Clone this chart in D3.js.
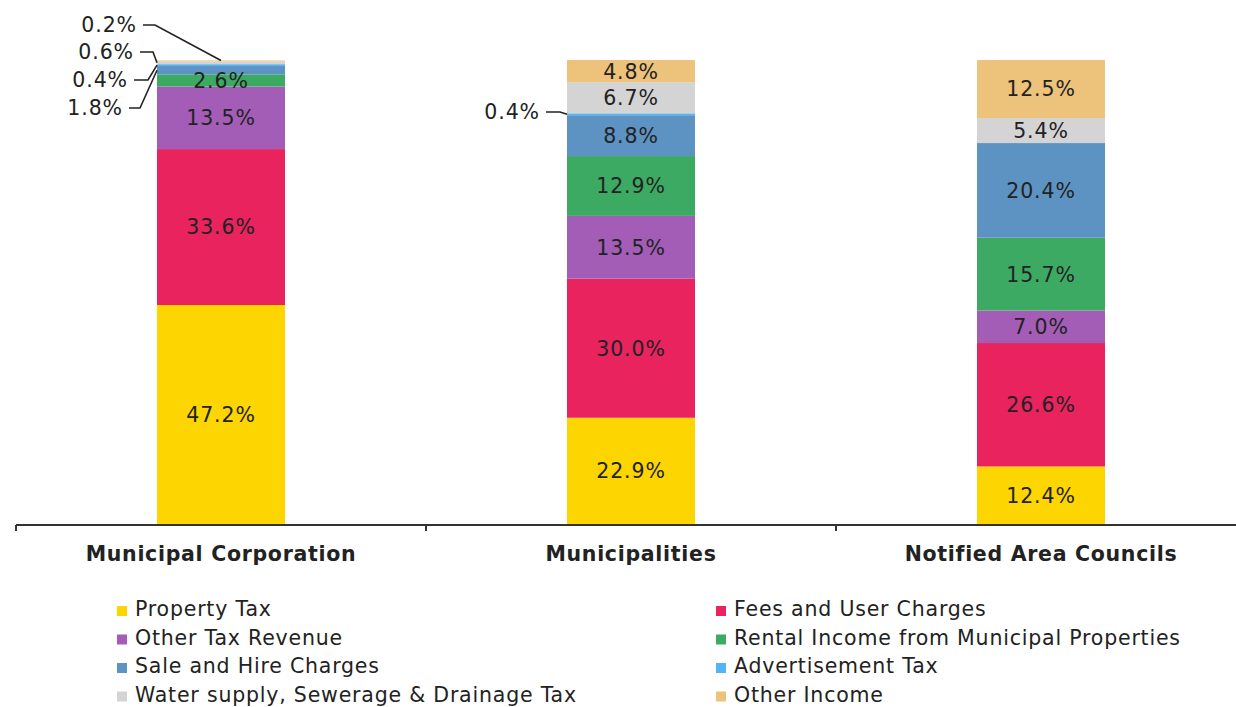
<!DOCTYPE html>
<html>
<head>
<meta charset="utf-8">
<script src="https://cdn.jsdelivr.net/npm/d3@7"></script>
<style>
  html, body { margin: 0; padding: 0; background: #ffffff; }
  svg { display: block; }
  text { font-family: "DejaVu Sans", Verdana, sans-serif; fill: #222; }
</style>
</head>
<body>
<svg id="chart" width="1236" height="707"></svg>
<script>
// Revenue composition by type of urban local body (share of own revenue, %)
const categories = ["Municipal Corporation", "Municipalities", "Notified Area Councils"];

const seriesNames = [
  "Property Tax",
  "Fees and User Charges",
  "Other Tax Revenue",
  "Rental Income from Municipal Properties",
  "Sale and Hire Charges",
  "Advertisement Tax",
  "Water supply, Sewerage & Drainage Tax",
  "Other Income"
];

const propertyTax   = [47.2, 22.9, 12.4];
const feesUser      = [33.6, 30.0, 26.6];
const otherTax      = [13.5, 13.5, 7.0];
const rentalIncome  = [2.6, 12.9, 15.7];
const saleHire      = [1.8, 8.8, 20.4];
const advertisement = [0.4, 0.4, 0.0];
const waterSupply   = [0.6, 6.7, 5.4];
const otherIncome   = [0.2, 4.8, 12.5];

const seriesValues = [propertyTax, feesUser, otherTax, rentalIncome, saleHire, advertisement, waterSupply, otherIncome];

const colors = ["#FDD500", "#E8235E", "#A35DB6", "#3DAA64", "#5D93C2", "#55B4F2", "#D4D4D4", "#EDC27A"];

// Small segments are labelled outside the bar with a leader line:
// [category index, series index, label right edge x, label centre y, elbow x, target on bar ("left" or "top")]
const calloutLayout = [
  [0, 7, 137, 25, 155, "top"],
  [0, 6, 134, 52, 153, "left"],
  [0, 5, 128, 80, 148, "left"],
  [0, 4, 123, 108, 140, "left"],
  [1, 5, 540, 112, 560, "left"]
];

const svg = d3.select("#chart");

const plotTop = 60, plotBottom = 524;
const rangeLeft = 16, rangeRight = 1246;

// category slots (boundaries carry the axis ticks) and centred bars
const slot = d3.scaleBand().domain(categories).range([rangeLeft, rangeRight]).padding(0);
const barPad = 1 - 128 / slot.step();
const x = d3.scaleBand().domain(categories).range([rangeLeft, rangeRight])
  .paddingInner(barPad).paddingOuter(barPad / 2);
const y = d3.scaleLinear().domain([0, 100]).range([plotBottom, plotTop]);

// rows for the stack
const rows = categories.map((c, i) => {
  const r = { category: c };
  seriesNames.forEach((s, j) => { r[s] = seriesValues[j][i]; });
  return r;
});
const stacked = d3.stack().keys(seriesNames)(rows);

const labelFont = { size: 20.5, spacing: 0.9 };

const layers = svg.append("g").selectAll("g")
  .data(stacked)
  .join("g")
  .attr("fill", (d, i) => colors[i]);

layers.selectAll("rect")
  .data(d => d.map(p => ({ p, key: d.key })))
  .join("rect")
  .attr("x", d => x(d.p.data.category))
  .attr("width", x.bandwidth())
  .attr("y", d => y(d.p[1]))
  .attr("height", d => Math.max(0, y(d.p[0]) - y(d.p[1])));

// inside labels
stacked.forEach((layer, j) => {
  layer.forEach((p, i) => {
    const v = seriesValues[j][i];
    if (v < 2.5) return;
    svg.append("text")
      .attr("x", x(categories[i]) + x.bandwidth() / 2)
      .attr("y", (y(p[0]) + y(p[1])) / 2)
      .attr("dy", "0.36em")
      .attr("text-anchor", "middle")
      .style("font-size", labelFont.size + "px")
      .style("letter-spacing", labelFont.spacing + "px")
      .text(v.toFixed(1) + "%");
  });
});

// outside labels with leader lines
calloutLayout.forEach(([ci, sj, lx, ly, ex, target]) => {
  const p = stacked[sj][ci];
  const v = seriesValues[sj][ci];
  const bx = x(categories[ci]);
  let tx, ty;
  if (target === "top") {
    tx = bx + x.bandwidth() / 2;
    ty = y(p[1]);
  } else {
    tx = bx;
    ty = (y(p[0]) + y(p[1])) / 2;
  }
  svg.append("path")
    .attr("d", d3.line()([[lx + 6, ly], [ex, ly], [tx, ty]]))
    .attr("fill", "none")
    .attr("stroke", "#222")
    .attr("stroke-width", 1.6);
  svg.append("text")
    .attr("x", lx)
    .attr("y", ly)
    .attr("dy", "0.36em")
    .attr("text-anchor", "end")
    .style("font-size", labelFont.size + "px")
    .style("letter-spacing", labelFont.spacing + "px")
    .text(v.toFixed(1) + "%");
});

// category axis
const axisG = svg.append("g");
axisG.append("line")
  .attr("x1", rangeLeft).attr("x2", 1236)
  .attr("y1", plotBottom + 1).attr("y2", plotBottom + 1)
  .attr("stroke", "#333").attr("stroke-width", 2);
categories.forEach(c => {
  axisG.append("line")
    .attr("x1", slot(c)).attr("x2", slot(c))
    .attr("y1", plotBottom + 1).attr("y2", plotBottom + 7)
    .attr("stroke", "#333").attr("stroke-width", 2);
  axisG.append("text")
    .attr("x", slot(c) + slot.bandwidth() / 2)
    .attr("y", 561)
    .attr("text-anchor", "middle")
    .style("font-size", "20.5px")
    .style("font-weight", "bold")
    .style("letter-spacing", "0.7px")
    .text(c);
});

// legend, two columns
const legendCols = [117, 716];
const legendRows = [616, 644.5, 673, 701.5];
seriesNames.forEach((s, j) => {
  const cx = legendCols[j % 2];
  const by = legendRows[Math.floor(j / 2)];
  const g = svg.append("g");
  g.append("rect")
    .attr("x", cx).attr("y", by - 10)
    .attr("width", 10).attr("height", 10)
    .attr("fill", colors[j]);
  g.append("text")
    .attr("x", cx + 18).attr("y", by)
    .style("font-size", "20.5px")
    .style("letter-spacing", "0.8px")
    .text(s);
});
</script>
</body>
</html>
